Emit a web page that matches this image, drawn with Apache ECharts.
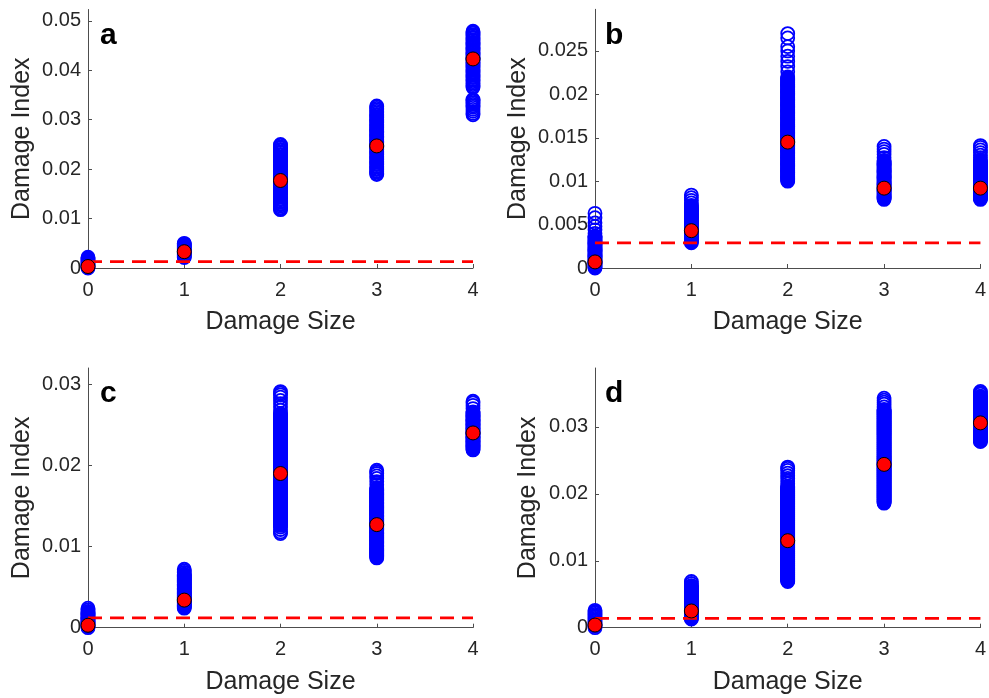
<!DOCTYPE html>
<html><head><meta charset="utf-8">
<script src="https://cdn.jsdelivr.net/npm/echarts@6/dist/echarts.min.js"></script>
<style>html,body{margin:0;padding:0;background:#fff}#chart{width:989px;height:698px}</style>
</head><body><div id="chart"></div>
<script>
// ---------- data ----------
const damageSizes = [0, 1, 2, 3, 4];
const panelLabels = ['a', 'b', 'c', 'd'];
const xAxisTitle = 'Damage Size';
const yAxisTitle = 'Damage Index';

// panel a
const aSize0 = [0.0000,0.0002,0.0004,0.0006,0.0008,0.0010,0.0012,0.0014,0.0016,0.0018,0.0020,0.0022];
const aSize1 = [0.0021,0.0023,0.0025,0.0027,0.0029,0.0031,0.0033,0.0035,0.0037,0.0039,0.0041,0.0043,0.0045,0.0047,0.0049,0.0050];
const aSize2 = [0.0118,0.0120,0.0122,0.0125,0.0128,0.0130,0.0133,0.0135,0.0138,0.0140,0.0143,0.0145,0.0148,0.0150,0.0153,0.0155,0.0158,0.0160,0.0163,0.0165,0.0168,0.0170,0.0173,0.0175,0.0178,0.0180,0.0183,0.0185,0.0188,0.0190,0.0193,0.0195,0.0198,0.0200,0.0203,0.0205,0.0208,0.0210,0.0213,0.0215,0.0218,0.0220,0.0223,0.0225,0.0228,0.0230,0.0233,0.0235,0.0238,0.0240,0.0243,0.0245,0.0248,0.0250];
const aSize3 = [0.0189,0.0191,0.0194,0.0196,0.0199,0.0201,0.0204,0.0206,0.0209,0.0211,0.0214,0.0216,0.0219,0.0221,0.0224,0.0226,0.0229,0.0231,0.0234,0.0236,0.0239,0.0241,0.0244,0.0246,0.0249,0.0251,0.0254,0.0256,0.0259,0.0261,0.0264,0.0266,0.0269,0.0271,0.0274,0.0276,0.0279,0.0281,0.0284,0.0286,0.0289,0.0291,0.0294,0.0296,0.0299,0.0301,0.0304,0.0306,0.0309,0.0311,0.0314,0.0317,0.0320,0.0323,0.0326,0.0328];
const aSize4 = [0.0310,0.0313,0.0317,0.0321,0.0325,0.0328,0.0331,0.0334,0.0337,0.0339,0.0341,0.0365,0.0368,0.0371,0.0374,0.0377,0.0380,0.0382,0.0385,0.0387,0.0390,0.0392,0.0395,0.0397,0.0400,0.0402,0.0405,0.0407,0.0410,0.0412,0.0415,0.0417,0.0420,0.0422,0.0425,0.0427,0.0430,0.0432,0.0435,0.0437,0.0440,0.0442,0.0445,0.0447,0.0450,0.0452,0.0455,0.0457,0.0460,0.0462,0.0465,0.0467,0.0470,0.0472,0.0475,0.0477,0.0479];
const aMeans = [0.0003, 0.0033, 0.0177, 0.0247, 0.0423];
const aThreshold = 0.0013;
const aYTicks = [0, 0.01, 0.02, 0.03, 0.04, 0.05];
const aYMax = 0.0523;

// panel b
const bSize0 = [0.0000,0.0001,0.0002,0.0003,0.0004,0.0005,0.0006,0.0007,0.0008,0.0009,0.0010,0.0011,0.0012,0.0013,0.0014,0.0015,0.0016,0.0017,0.0018,0.0019,0.0020,0.0021,0.0022,0.0023,0.0024,0.0025,0.0026,0.0027,0.0028,0.0029,0.0030,0.0031,0.0032,0.0033,0.0034,0.0035,0.0036,0.0037,0.0040,0.0044,0.0048,0.0052,0.0058,0.0063];
const bSize1 = [0.0029,0.0030,0.0031,0.0032,0.0033,0.0034,0.0035,0.0036,0.0037,0.0038,0.0039,0.0040,0.0041,0.0042,0.0043,0.0044,0.0045,0.0046,0.0047,0.0048,0.0049,0.0050,0.0051,0.0052,0.0053,0.0054,0.0055,0.0056,0.0057,0.0058,0.0059,0.0060,0.0061,0.0062,0.0063,0.0064,0.0065,0.0066,0.0067,0.0068,0.0069,0.0070,0.0071,0.0072,0.0075,0.0078,0.0081,0.0084];
const bSize2 = [0.0100,0.0101,0.0102,0.0103,0.0104,0.0105,0.0106,0.0107,0.0108,0.0109,0.0110,0.0111,0.0112,0.0113,0.0114,0.0115,0.0116,0.0117,0.0118,0.0119,0.0120,0.0121,0.0122,0.0123,0.0124,0.0125,0.0126,0.0127,0.0128,0.0129,0.0130,0.0131,0.0132,0.0133,0.0134,0.0135,0.0136,0.0137,0.0138,0.0139,0.0140,0.0141,0.0142,0.0143,0.0144,0.0145,0.0146,0.0147,0.0148,0.0149,0.0150,0.0151,0.0152,0.0153,0.0154,0.0155,0.0156,0.0157,0.0158,0.0159,0.0160,0.0161,0.0162,0.0163,0.0164,0.0165,0.0166,0.0167,0.0168,0.0169,0.0170,0.0171,0.0172,0.0173,0.0174,0.0175,0.0176,0.0177,0.0178,0.0179,0.0180,0.0181,0.0182,0.0183,0.0184,0.0185,0.0186,0.0187,0.0188,0.0189,0.0190,0.0191,0.0192,0.0193,0.0194,0.0195,0.0196,0.0197,0.0198,0.0199,0.0200,0.0201,0.0202,0.0203,0.0204,0.0205,0.0206,0.0207,0.0208,0.0209,0.0210,0.0211,0.0212,0.0213,0.0214,0.0215,0.0216,0.0217,0.0218,0.0219,0.0220,0.0226,0.0232,0.0238,0.0244,0.0250,0.0255,0.0265,0.0270];
const bSize3 = [0.0079,0.0080,0.0081,0.0082,0.0083,0.0084,0.0085,0.0086,0.0087,0.0088,0.0089,0.0090,0.0091,0.0092,0.0093,0.0094,0.0095,0.0096,0.0097,0.0098,0.0099,0.0100,0.0101,0.0102,0.0103,0.0104,0.0105,0.0106,0.0107,0.0108,0.0109,0.0110,0.0111,0.0112,0.0113,0.0114,0.0115,0.0116,0.0117,0.0118,0.0119,0.0120,0.0121,0.0122,0.0123,0.0124,0.0127,0.0131,0.0134,0.0137,0.0140];
const bSize4 = [0.0079,0.0080,0.0081,0.0082,0.0083,0.0084,0.0085,0.0086,0.0087,0.0088,0.0089,0.0090,0.0091,0.0092,0.0093,0.0094,0.0095,0.0096,0.0097,0.0098,0.0099,0.0100,0.0101,0.0102,0.0103,0.0104,0.0105,0.0106,0.0107,0.0108,0.0109,0.0110,0.0111,0.0112,0.0113,0.0114,0.0115,0.0116,0.0117,0.0118,0.0119,0.0120,0.0121,0.0122,0.0123,0.0124,0.0127,0.0130,0.0133,0.0136,0.0139,0.0141];
const bMeans = [0.0007, 0.0043, 0.0145, 0.0092, 0.0092];
const bThreshold = 0.0029;
const bYTicks = [0, 0.005, 0.01, 0.015, 0.02, 0.025];
const bYMax = 0.0298;

// panel c
const cSize0 = [0.0000,0.0001,0.0002,0.0003,0.0004,0.0005,0.0006,0.0007,0.0008,0.0009,0.0010,0.0011,0.0012,0.0013,0.0014,0.0015,0.0016,0.0017,0.0018,0.0019,0.0020,0.0022,0.0024];
const cSize1 = [0.0024,0.0025,0.0026,0.0027,0.0028,0.0029,0.0030,0.0031,0.0032,0.0033,0.0034,0.0035,0.0036,0.0037,0.0038,0.0039,0.0040,0.0041,0.0042,0.0043,0.0044,0.0045,0.0046,0.0047,0.0048,0.0049,0.0050,0.0051,0.0052,0.0053,0.0054,0.0055,0.0056,0.0057,0.0058,0.0059,0.0060,0.0061,0.0062,0.0063,0.0064,0.0065,0.0066,0.0068,0.0070,0.0072];
const cSize2 = [0.0116,0.0118,0.0121,0.0124,0.0126,0.0127,0.0128,0.0129,0.0130,0.0131,0.0132,0.0133,0.0134,0.0135,0.0136,0.0137,0.0138,0.0139,0.0140,0.0141,0.0142,0.0143,0.0144,0.0145,0.0146,0.0147,0.0148,0.0149,0.0150,0.0151,0.0152,0.0153,0.0154,0.0155,0.0156,0.0157,0.0158,0.0159,0.0160,0.0161,0.0162,0.0163,0.0164,0.0165,0.0166,0.0167,0.0168,0.0169,0.0170,0.0171,0.0172,0.0173,0.0174,0.0175,0.0176,0.0177,0.0178,0.0179,0.0180,0.0181,0.0182,0.0183,0.0184,0.0185,0.0186,0.0187,0.0188,0.0189,0.0190,0.0191,0.0192,0.0193,0.0194,0.0195,0.0196,0.0197,0.0198,0.0199,0.0200,0.0201,0.0202,0.0203,0.0204,0.0205,0.0206,0.0207,0.0208,0.0209,0.0210,0.0211,0.0212,0.0213,0.0214,0.0215,0.0216,0.0217,0.0218,0.0219,0.0220,0.0221,0.0222,0.0223,0.0224,0.0225,0.0226,0.0227,0.0228,0.0229,0.0230,0.0231,0.0232,0.0233,0.0234,0.0235,0.0236,0.0237,0.0238,0.0239,0.0240,0.0241,0.0242,0.0243,0.0244,0.0245,0.0246,0.0247,0.0248,0.0249,0.0250,0.0251,0.0252,0.0253,0.0254,0.0255,0.0256,0.0257,0.0258,0.0259,0.0260,0.0261,0.0262,0.0263,0.0264,0.0268,0.0272,0.0276,0.0280,0.0284,0.0287,0.0289,0.0291];
const cSize3 = [0.0086,0.0087,0.0088,0.0089,0.0090,0.0091,0.0092,0.0093,0.0094,0.0095,0.0096,0.0097,0.0098,0.0099,0.0100,0.0101,0.0102,0.0103,0.0104,0.0105,0.0106,0.0107,0.0108,0.0109,0.0110,0.0111,0.0112,0.0113,0.0114,0.0115,0.0116,0.0117,0.0118,0.0119,0.0120,0.0121,0.0122,0.0123,0.0124,0.0125,0.0126,0.0127,0.0128,0.0129,0.0130,0.0131,0.0132,0.0133,0.0134,0.0135,0.0136,0.0137,0.0138,0.0139,0.0140,0.0141,0.0142,0.0143,0.0144,0.0145,0.0146,0.0147,0.0148,0.0149,0.0150,0.0151,0.0152,0.0153,0.0154,0.0155,0.0156,0.0157,0.0158,0.0159,0.0160,0.0161,0.0162,0.0163,0.0164,0.0165,0.0166,0.0167,0.0168,0.0169,0.0170,0.0171,0.0172,0.0176,0.0180,0.0184,0.0187,0.0190,0.0192,0.0194];
const cSize4 = [0.0219,0.0220,0.0221,0.0222,0.0223,0.0224,0.0225,0.0226,0.0227,0.0228,0.0229,0.0230,0.0231,0.0232,0.0233,0.0234,0.0235,0.0236,0.0237,0.0238,0.0239,0.0240,0.0241,0.0242,0.0243,0.0244,0.0245,0.0246,0.0247,0.0248,0.0249,0.0250,0.0251,0.0252,0.0253,0.0254,0.0255,0.0256,0.0257,0.0258,0.0259,0.0260,0.0261,0.0262,0.0263,0.0264,0.0265,0.0266,0.0270,0.0274,0.0277,0.0279];
const cMeans = [0.0003, 0.0034, 0.0190, 0.0127, 0.0240];
const cThreshold = 0.0012;
const cYTicks = [0, 0.01, 0.02, 0.03];
const cYMax = 0.0320;

// panel d
const dSize0 = [0.0000,0.0002,0.0004,0.0006,0.0008,0.0010,0.0012,0.0014,0.0016,0.0018,0.0020,0.0022,0.0024,0.0026];
const dSize1 = [0.0013,0.0014,0.0015,0.0016,0.0017,0.0018,0.0019,0.0020,0.0021,0.0022,0.0023,0.0024,0.0025,0.0026,0.0027,0.0028,0.0029,0.0030,0.0031,0.0032,0.0033,0.0034,0.0035,0.0036,0.0037,0.0038,0.0039,0.0040,0.0041,0.0042,0.0043,0.0044,0.0045,0.0046,0.0047,0.0048,0.0049,0.0050,0.0051,0.0052,0.0053,0.0054,0.0055,0.0056,0.0057,0.0058,0.0059,0.0060,0.0061,0.0062,0.0063,0.0066,0.0069];
const dSize2 = [0.0069,0.0070,0.0071,0.0072,0.0073,0.0074,0.0075,0.0076,0.0077,0.0078,0.0079,0.0080,0.0081,0.0082,0.0083,0.0084,0.0085,0.0086,0.0087,0.0088,0.0089,0.0090,0.0091,0.0092,0.0093,0.0094,0.0095,0.0096,0.0097,0.0098,0.0099,0.0100,0.0101,0.0102,0.0103,0.0104,0.0105,0.0106,0.0107,0.0108,0.0109,0.0110,0.0111,0.0112,0.0113,0.0114,0.0115,0.0116,0.0117,0.0118,0.0119,0.0120,0.0121,0.0122,0.0123,0.0124,0.0125,0.0126,0.0127,0.0128,0.0129,0.0130,0.0131,0.0132,0.0133,0.0134,0.0135,0.0136,0.0137,0.0138,0.0139,0.0140,0.0141,0.0142,0.0143,0.0144,0.0145,0.0146,0.0147,0.0148,0.0149,0.0150,0.0151,0.0152,0.0153,0.0154,0.0155,0.0156,0.0157,0.0158,0.0159,0.0160,0.0161,0.0162,0.0163,0.0164,0.0165,0.0166,0.0167,0.0168,0.0169,0.0170,0.0171,0.0172,0.0173,0.0174,0.0175,0.0176,0.0177,0.0178,0.0179,0.0180,0.0181,0.0182,0.0183,0.0184,0.0185,0.0186,0.0187,0.0188,0.0189,0.0190,0.0191,0.0192,0.0193,0.0194,0.0195,0.0196,0.0197,0.0198,0.0199,0.0200,0.0201,0.0202,0.0203,0.0204,0.0205,0.0206,0.0207,0.0208,0.0209,0.0210,0.0211,0.0215,0.0219,0.0223,0.0227,0.0231,0.0235,0.0238,0.0240];
const dSize3 = [0.0186,0.0187,0.0188,0.0189,0.0190,0.0191,0.0192,0.0193,0.0194,0.0195,0.0196,0.0197,0.0198,0.0199,0.0200,0.0201,0.0202,0.0203,0.0204,0.0205,0.0206,0.0207,0.0208,0.0209,0.0210,0.0211,0.0212,0.0213,0.0214,0.0215,0.0216,0.0217,0.0218,0.0219,0.0220,0.0221,0.0222,0.0223,0.0224,0.0225,0.0226,0.0227,0.0228,0.0229,0.0230,0.0231,0.0232,0.0233,0.0234,0.0235,0.0236,0.0237,0.0238,0.0239,0.0240,0.0241,0.0242,0.0243,0.0244,0.0245,0.0246,0.0247,0.0248,0.0249,0.0250,0.0251,0.0252,0.0253,0.0254,0.0255,0.0256,0.0257,0.0258,0.0259,0.0260,0.0261,0.0262,0.0263,0.0264,0.0265,0.0266,0.0267,0.0268,0.0269,0.0270,0.0271,0.0272,0.0273,0.0274,0.0275,0.0276,0.0277,0.0278,0.0279,0.0280,0.0281,0.0282,0.0283,0.0284,0.0285,0.0286,0.0287,0.0288,0.0289,0.0290,0.0291,0.0292,0.0293,0.0294,0.0295,0.0296,0.0297,0.0298,0.0299,0.0300,0.0301,0.0302,0.0303,0.0304,0.0305,0.0306,0.0307,0.0308,0.0309,0.0310,0.0311,0.0312,0.0313,0.0314,0.0315,0.0316,0.0317,0.0318,0.0319,0.0320,0.0321,0.0322,0.0323,0.0324,0.0325,0.0326,0.0330,0.0334,0.0337,0.0340,0.0343];
const dSize4 = [0.0278,0.0279,0.0280,0.0281,0.0282,0.0283,0.0284,0.0285,0.0286,0.0287,0.0288,0.0289,0.0290,0.0291,0.0292,0.0293,0.0294,0.0295,0.0296,0.0297,0.0298,0.0299,0.0300,0.0301,0.0302,0.0303,0.0304,0.0305,0.0306,0.0307,0.0308,0.0309,0.0310,0.0311,0.0312,0.0313,0.0314,0.0315,0.0316,0.0317,0.0318,0.0319,0.0320,0.0321,0.0322,0.0323,0.0324,0.0325,0.0326,0.0327,0.0328,0.0329,0.0330,0.0331,0.0332,0.0333,0.0334,0.0335,0.0336,0.0337,0.0338,0.0339,0.0340,0.0341,0.0342,0.0343,0.0344,0.0345,0.0346,0.0349,0.0351,0.0353];
const dMeans = [0.0004, 0.0025, 0.0130, 0.0244, 0.0306];
const dThreshold = 0.0014;
const dYTicks = [0, 0.01, 0.02, 0.03];
const dYMax = 0.0388;

// ---------- build ----------
const panels = [
  { samples: [aSize0, aSize1, aSize2, aSize3, aSize4], means: aMeans, thr: aThreshold, ticks: aYTicks, ymax: aYMax },
  { samples: [bSize0, bSize1, bSize2, bSize3, bSize4], means: bMeans, thr: bThreshold, ticks: bYTicks, ymax: bYMax },
  { samples: [cSize0, cSize1, cSize2, cSize3, cSize4], means: cMeans, thr: cThreshold, ticks: cYTicks, ymax: cYMax },
  { samples: [dSize0, dSize1, dSize2, dSize3, dSize4], means: dMeans, thr: dThreshold, ticks: dYTicks, ymax: dYMax }
];
const layout = [
  { left: 88, top: 9.5, width: 385, height: 258.5, gap: 53, lx: 100, ly: 38 },
  { left: 595, top: 9.3, width: 386, height: 258.7, gap: 64, lx: 605, ly: 38 },
  { left: 88, top: 368, width: 385, height: 259.7, gap: 53, lx: 100, ly: 396 },
  { left: 595, top: 368, width: 386, height: 259.7, gap: 54, lx: 605, ly: 396 }
];
const textColor = '#262626';
const axisColor = '#4d4d4d';
const FONT = 'Liberation Sans, Arial, Helvetica, sans-serif';

const grid = [], xAxis = [], yAxis = [], series = [], graphic = [];
panels.forEach((p, i) => {
  const L = layout[i];
  grid.push({ left: L.left, top: L.top, width: L.width, height: L.height, containLabel: false });
  xAxis.push({
    type: 'value', gridIndex: i, min: damageSizes[0], max: damageSizes[damageSizes.length - 1], interval: 1,
    axisLine: { show: true, lineStyle: { color: axisColor, width: 1 } },
    axisTick: { show: true, inside: true, length: 4, lineStyle: { color: axisColor } },
    axisLabel: { color: textColor, fontSize: 20, fontFamily: FONT, margin: 12 },
    splitLine: { show: false },
    name: xAxisTitle, nameLocation: 'middle', nameGap: 42,
    nameTextStyle: { color: textColor, fontSize: 25, fontFamily: FONT }
  });
  yAxis.push({
    type: 'value', gridIndex: i, min: 0, max: p.ymax,
    axisLine: { show: true, lineStyle: { color: axisColor, width: 1 } },
    axisTick: { show: true, inside: true, length: 4, customValues: p.ticks, lineStyle: { color: axisColor } },
    axisLabel: { color: textColor, fontSize: 20, fontFamily: FONT, margin: 7, customValues: p.ticks, formatter: v => String(v) },
    splitLine: { show: false },
    name: yAxisTitle, nameLocation: 'middle', nameGap: L.gap,
    nameTextStyle: { color: textColor, fontSize: 25, fontFamily: FONT }
  });
  const pts = [];
  p.samples.forEach((arr, k) => arr.forEach(v => pts.push([damageSizes[k], v])));
  series.push({
    type: 'scatter', xAxisIndex: i, yAxisIndex: i, data: pts, symbol: 'circle', symbolSize: 13, clip: false,
    itemStyle: { color: 'rgba(0,0,0,0)', borderColor: '#0000ff', borderWidth: 1.8, opacity: 1 },
    emphasis: { disabled: true }, silent: true, z: 2
  });
  series.push({
    type: 'line', xAxisIndex: i, yAxisIndex: i,
    data: [[damageSizes[0], p.thr], [damageSizes[damageSizes.length - 1], p.thr]],
    symbol: 'none', lineStyle: { color: '#ff0000', width: 2.8, type: [14, 8] }, silent: true, z: 3
  });
  series.push({
    type: 'scatter', xAxisIndex: i, yAxisIndex: i, data: p.means.map((v, k) => [damageSizes[k], v]),
    symbol: 'circle', symbolSize: 14, clip: false,
    itemStyle: { color: '#ff0000', borderColor: '#000000', borderWidth: 1, opacity: 1 },
    emphasis: { disabled: true }, silent: true, z: 4
  });
  graphic.push({
    type: 'text', left: L.lx, top: L.ly - 17,
    style: { text: panelLabels[i], font: 'bold 30px ' + FONT, fill: '#000000' }
  });
});

const chart = echarts.init(document.getElementById('chart'), null, { renderer: 'canvas' });
chart.setOption({ animation: false, backgroundColor: '#ffffff', grid, xAxis, yAxis, series, graphic });
</script>
</body></html>
